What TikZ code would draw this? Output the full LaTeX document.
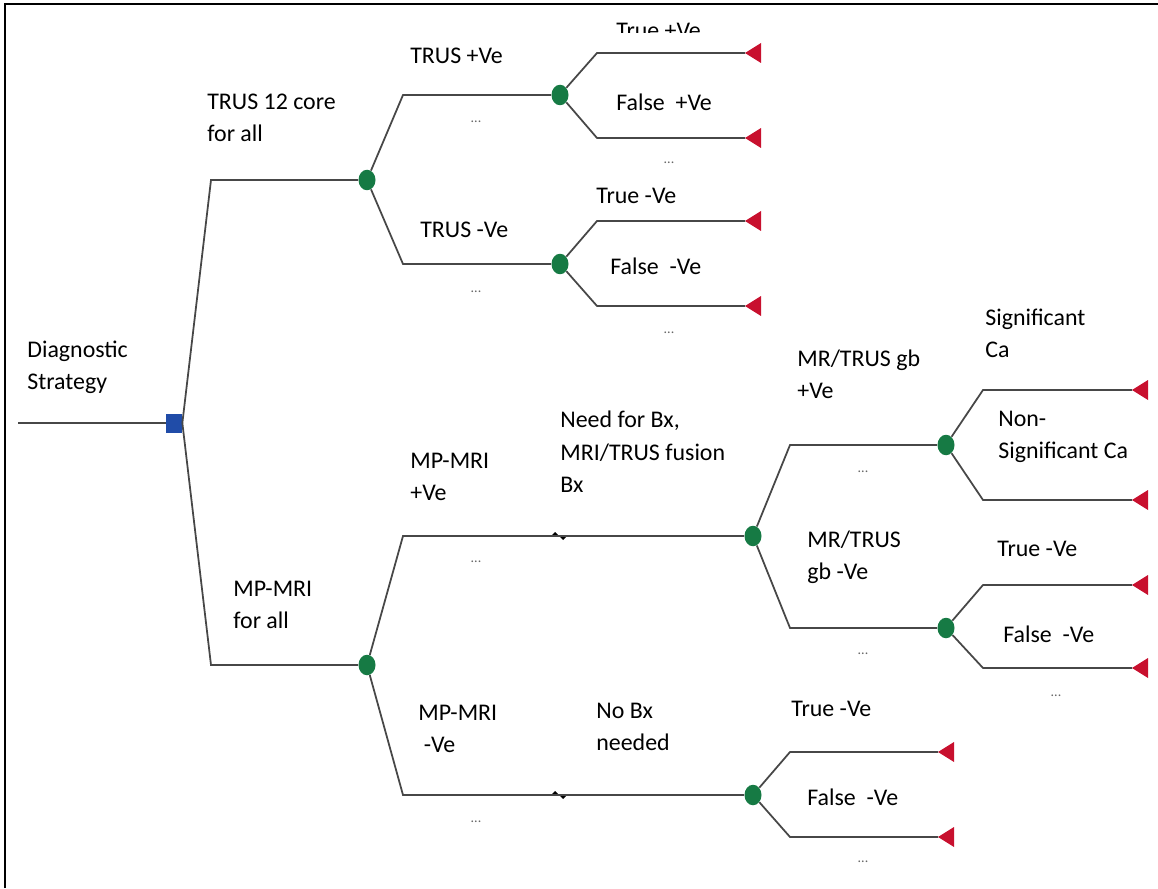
\documentclass[tikz,border=0pt]{standalone}
\usepackage{fontspec}
\setmainfont{Carlito}
\usetikzlibrary{shapes.geometric}
\definecolor{dkgreen}{RGB}{22,122,68}
\definecolor{dkblue}{RGB}{32,76,168}
\definecolor{tred}{RGB}{200,16,46}
\tikzset{
  chance/.style={ellipse, fill=dkgreen, inner sep=0pt, minimum width=0.34cm, minimum height=0.41cm},
  choice/.style={rectangle, fill=dkblue, inner sep=0pt, minimum width=0.32cm, minimum height=0.38cm},
  lbl/.style={anchor=west, align=left, inner sep=0pt, font=\fontsize{13.6}{18.4}\selectfont},
  dots/.style={font=\fontsize{8}{9}\selectfont, text=black!60, inner sep=0pt},
  branch/.style={draw=black!72, line width=1pt}
}
\newcommand{\term}[3]{\coordinate (#1) at (#2,#3);
  \fill[tred] (#1) -- ++(16,-10) -- ++(0,20) -- cycle;}
\newcommand{\kink}[3]{\coordinate (#1) at (#2,#3);
  \fill (#1) ++(-6,0) -- ++(4,-4) -- ++(4,4) -- cycle;
  \fill (#1) ++(2,0) -- ++(4,4) -- ++(4,-4) -- cycle;}

\begin{document}
\begin{tikzpicture}[x=0.02cm, y=-0.02cm]
  \useasboundingbox (0,0) rectangle (1158,888);
  \draw[line width=1.1pt] (5,888) -- (5,4) -- (1158,4);

  % decision node
  \coordinate (s) at (18,423);
  \node[choice] (d) at (174,423) {};
  \coordinate (a1) at (211,180);
  \coordinate (b1) at (211,665);
  \node[chance] (a) at (367,180) {};
  \node[chance] (b) at (367,665) {};

  \draw[branch] (s) -- (d);
  \draw[branch] (d.east) -- (a1) -- (a);
  \draw[branch] (d.east) -- (b1) -- (b);

  % TRUS arm
  \coordinate (a2) at (403,95);
  \coordinate (a3) at (403,264);
  \node[chance] (c) at (560,95) {};
  \node[chance] (e) at (560,264) {};
  \coordinate (c2) at (597,53);
  \coordinate (c3) at (597,138);
  \coordinate (e2) at (597,221);
  \coordinate (e3) at (597,306);
  \term{t1}{745}{53}
  \term{t2}{745}{138}
  \term{t3}{745}{221}
  \term{t4}{745}{306}

  \draw[branch] (a) -- (a2) -- (c);
  \draw[branch] (a) -- (a3) -- (e);
  \draw[branch] (c) -- (c2) -- (t1);
  \draw[branch] (c) -- (c3) -- (t2);
  \draw[branch] (e) -- (e2) -- (t3);
  \draw[branch] (e) -- (e3) -- (t4);

  % MP-MRI arm
  \coordinate (b2) at (403,536);
  \coordinate (b3) at (403,795);
  \kink{k1}{557}{536}
  \kink{k2}{557}{795}
  \node[chance] (f) at (753,536) {};
  \node[chance] (g) at (753,795) {};
  \coordinate (f2) at (790,445);
  \coordinate (f3) at (790,628);
  \node[chance] (h) at (946,445) {};
  \node[chance] (i) at (946,628) {};
  \coordinate (h2) at (983,390);
  \coordinate (h3) at (983,500);
  \coordinate (i2) at (983,585);
  \coordinate (i3) at (983,668);
  \coordinate (g2) at (790,752);
  \coordinate (g3) at (790,837);
  \term{t5}{1132}{390}
  \term{t6}{1132}{500}
  \term{t7}{1132}{585}
  \term{t8}{1132}{668}
  \term{t9}{938}{752}
  \term{t10}{938}{837}

  \draw[branch] (b) -- (b2) -- (k1) -- (f);
  \draw[branch] (b) -- (b3) -- (k2) -- (g);
  \draw[branch] (f) -- (f2) -- (h);
  \draw[branch] (f) -- (f3) -- (i);
  \draw[branch] (h) -- (h2) -- (t5);
  \draw[branch] (h) -- (h3) -- (t6);
  \draw[branch] (i) -- (i2) -- (t7);
  \draw[branch] (i) -- (i3) -- (t8);
  \draw[branch] (g) -- (g2) -- (t9);
  \draw[branch] (g) -- (g3) -- (t10);

  % labels
  \node[lbl] (l1) at (27,367) {Diagnostic\\Strategy};
  \node[lbl] (l2) at (207,118) {TRUS 12 core\\for all};
  \node[lbl] (l3) at (410,56) {TRUS +Ve};
  \begin{scope}
    \clip (600,0) rectangle (720,33);
    \node[lbl] (l4) at (616,31) {True +Ve};
  \end{scope}
  \node[lbl] (l5) at (616,102) {False\ \ +Ve};
  \node[lbl] (l6) at (420,230) {TRUS -Ve};
  \node[lbl] (l7) at (596,196) {True -Ve};
  \node[lbl] (l8) at (610,266) {False\ \ -Ve};
  \node[lbl] (l9) at (233,605) {MP-MRI\\for all};
  \node[lbl] (l10) at (410,477) {MP-MRI\\+Ve};
  \node[lbl] (l11) at (560,452) {Need for Bx,\\MRI/TRUS fusion\\Bx};
  \node[lbl] (l12) at (797,374) {MR/TRUS gb\\+Ve};
  \node[lbl] (l13) at (985,333) {Significant\\Ca};
  \node[lbl] (l14) at (998,437) {Non-\\Significant Ca};
  \node[lbl] (l15) at (807,557) {MR/TRUS\\gb -Ve};
  \node[lbl] (l16) at (997,549) {True -Ve};
  \node[lbl] (l17) at (1003,634) {False\ \ -Ve};
  \node[lbl] (l18) at (418,729) {MP-MRI\\\ -Ve};
  \node[lbl] (l19) at (596,727) {No Bx\\needed};
  \node[lbl] (l20) at (791,709) {True -Ve};
  \node[lbl] (l21) at (807,797) {False\ \ -Ve};

  % ellipses
  \foreach \x/\y in {476/122, 669/163, 476/292, 669/333, 476/562,
                     863/472, 863/654, 1056/696, 476/822, 863/862}
    \node[dots] at (\x,\y) {...};
\end{tikzpicture}
\end{document}
